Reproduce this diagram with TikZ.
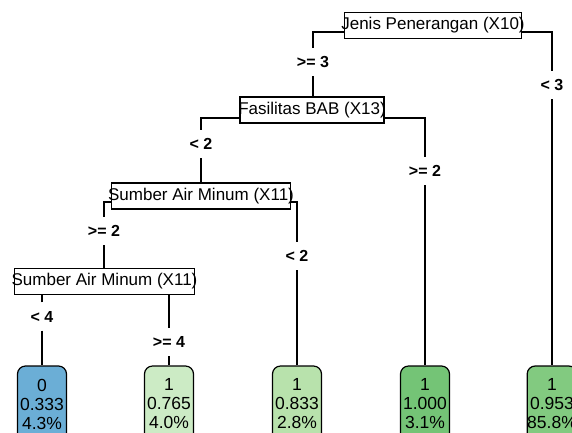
\documentclass[tikz,border=0pt]{standalone}
\usepackage{fontspec}
\setmainfont{Liberation Sans}
\usetikzlibrary{backgrounds}
\definecolor{leafA}{RGB}{107,174,214}
\definecolor{leafB}{RGB}{204,235,197}
\definecolor{leafC}{RGB}{184,226,172}
\definecolor{leafD}{RGB}{116,196,118}
\definecolor{leafE}{RGB}{130,202,128}
\begin{document}
\begin{tikzpicture}[x=1pt,y=-1pt,
 splitbox/.style={draw=black, line width=1.2pt, fill=white, minimum height=26pt, inner xsep=-3pt, inner ysep=0pt, font=\fontsize{17}{19}\selectfont},
 cond/.style={font=\bfseries\fontsize{16}{18}\selectfont, minimum height=28pt, inner sep=0pt},
 leafbox/.style={draw=black, line width=1.2pt, rounded corners=8pt, minimum width=49pt, minimum height=76pt, inner sep=0pt, align=center, font=\fontsize{17.5}{19}\selectfont},
 edge/.style={line width=1.2pt}]
\useasboundingbox (0,0) rectangle (572,432);
\clip (0,0) rectangle (572,432);
% split nodes
\node[splitbox, minimum width=176pt] (root) at (433,25.5) {Jenis Penerangan (X10)};
\node[splitbox, minimum width=144pt] (fas) at (312,110) {Fasilitas BAB (X13)};
\node[splitbox, minimum width=176pt] (s1) at (201,196) {Sumber Air Minum (X11)};
\node[splitbox, minimum width=177pt] (s2) at (104.5,281.5) {Sumber Air Minum (X11)};
% condition labels
\node[cond] (c1) at (313,62) {>= 3};
\node[cond] (c2) at (552,85) {< 3};
\node[cond] (c3) at (201,144) {< 2};
\node[cond] (c4) at (425,171) {>= 2};
\node[cond] (c5) at (104,231) {>= 2};
\node[cond] (c6) at (297,256) {< 2};
\node[cond] (c7) at (42,316.5) {< 4};
\node[cond] (c8) at (169,342) {>= 4};
% leaves
\node[leafbox, fill=leafA] (L1) at (42,404) {0\\0.333\\4.3\%};
\node[leafbox, fill=leafB] (L2) at (169,404) {1\\0.765\\4.0\%};
\node[leafbox, fill=leafC] (L3) at (297,404) {1\\0.833\\2.8\%};
\node[leafbox, fill=leafD] (L4) at (425,404) {1\\1.000\\3.1\%};
\node[leafbox, fill=leafE] (L5) at (552,404) {1\\0.953\\85.8\%};
% edges
\begin{pgfonlayer}{background}
\draw[edge] (c1.north) |- ([yshift=-6.5pt]root.center) -| (c2.north);
\draw[edge] (c1.south) -- (c1.south |- fas.north);
\draw[edge] (c2.south) -- (c2.south |- L5.north);
\draw[edge] (c3.north) |- ([yshift=-8pt]fas.center) -| (c4.north);
\draw[edge] (c3.south) -- (c3.south |- s1.north);
\draw[edge] (c4.south) -- (c4.south |- L4.north);
\draw[edge] (c5.north) |- ([yshift=-6pt]s1.center) -| (c6.north);
\draw[edge] (c5.south) -- (c5.south |- s2.north);
\draw[edge] (c6.south) -- (c6.south |- L3.north);
\draw[edge] (c7.north) |- ([yshift=-8pt]s2.center) -| (c8.north);
\draw[edge] (c7.south) -- (c7.south |- L1.north);
\draw[edge] (c8.south) -- (c8.south |- L2.north);
\end{pgfonlayer}
\end{tikzpicture}
\end{document}
